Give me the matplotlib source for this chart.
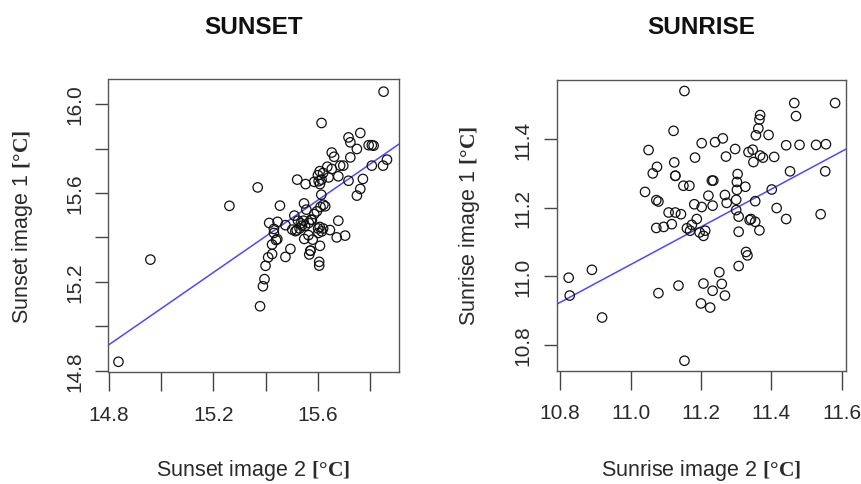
import matplotlib
matplotlib.use("Agg")
import matplotlib.pyplot as plt

# ---------------- data ----------------
sunset_x = [14.838, 14.960, 15.851, 15.614, 15.262, 15.370, 15.379, 15.390, 15.396, 15.400,
            15.410, 15.425, 15.445, 15.414, 15.432, 15.432, 15.455, 15.446, 15.440, 15.425,
            15.476, 15.495, 15.502, 15.514, 15.519, 15.530, 15.545, 15.539, 15.547, 15.556,
            15.565, 15.574, 15.586, 15.596, 15.610, 15.613, 15.608, 15.603, 15.600, 15.586,
            15.553, 15.521, 15.535, 15.564, 15.580, 15.571, 15.572, 15.548, 15.567, 15.602,
            15.608, 15.621, 15.628, 15.607, 15.614, 15.620, 15.636, 15.662, 15.653, 15.601,
            15.607, 15.620, 15.646, 15.672, 15.704, 15.678, 15.605, 15.605, 15.641, 15.653,
            15.678, 15.685, 15.697, 15.724, 15.717, 15.717, 15.724, 15.749, 15.762, 15.749,
            15.762, 15.772, 15.794, 15.806, 15.813, 15.806, 15.849, 15.864, 15.476, 15.510,
            15.577, 15.615, 15.524, 15.551]
sunset_y = [14.840, 15.300, 16.056, 15.915, 15.542, 15.625, 15.090, 15.180, 15.212, 15.272,
            15.310, 15.368, 15.392, 15.465, 15.438, 15.420, 15.543, 15.470, 15.388, 15.325,
            15.312, 15.348, 15.435, 15.428, 15.432, 15.440, 15.475, 15.453, 15.553, 15.525,
            15.465, 15.480, 15.505, 15.517, 15.537, 15.592, 15.640, 15.653, 15.680, 15.650,
            15.640, 15.660, 15.463, 15.410, 15.390, 15.340, 15.340, 15.393, 15.323, 15.420,
            15.362, 15.547, 15.540, 15.698, 15.660, 15.690, 15.718, 15.763, 15.782, 15.440,
            15.447, 15.440, 15.433, 15.400, 15.408, 15.475, 15.290, 15.273, 15.670, 15.708,
            15.675, 15.723, 15.723, 15.760, 15.655, 15.850, 15.828, 15.798, 15.870, 15.588,
            15.618, 15.663, 15.815, 15.815, 15.813, 15.723, 15.723, 15.750, 15.455, 15.498,
            15.478, 15.427, 15.475, 15.452]
# regression line: a point on it and its slope
sunset_fit_x0 = 14.80
sunset_fit_y0 = 14.9155
sunset_fit_slope = 0.815

sunrise_x = [11.153, 11.153, 10.824, 10.827, 10.890, 10.919, 11.041, 11.051, 11.063, 11.075,
             11.073, 11.079, 11.073, 11.094, 11.079, 11.108, 11.117, 11.122, 11.124, 11.127,
             11.127, 11.127, 11.136, 11.143, 11.150, 11.164, 11.167, 11.160, 11.169, 11.174,
             11.181, 11.183, 11.188, 11.196, 11.202, 11.202, 11.207, 11.212, 11.207, 11.200,
             11.226, 11.233, 11.221, 11.231, 11.235, 11.233, 11.240, 11.252, 11.259, 11.268,
             11.262, 11.268, 11.273, 11.271, 11.297, 11.302, 11.304, 11.302, 11.300, 11.300,
             11.307, 11.307, 11.307, 11.326, 11.328, 11.332, 11.335, 11.338, 11.342, 11.347,
             11.349, 11.354, 11.354, 11.356, 11.363, 11.368, 11.366, 11.376, 11.368, 11.366,
             11.392, 11.401, 11.408, 11.415, 11.442, 11.442, 11.453, 11.465, 11.470, 11.480,
             11.527, 11.540, 11.553, 11.555, 11.581]
sunrise_y = [11.540, 10.754, 10.996, 10.944, 11.019, 10.880, 11.246, 11.368, 11.300, 11.319,
             11.222, 11.218, 11.141, 11.144, 10.951, 11.186, 11.152, 11.424, 11.332, 11.293,
             11.293, 11.186, 10.973, 11.181, 11.264, 11.587, 11.264, 11.140, 11.133, 11.150,
             11.210, 11.346, 11.167, 11.128, 11.388, 11.202, 11.118, 11.133, 10.979, 10.921,
             10.909, 10.958, 11.235, 11.279, 11.279, 11.206, 11.391, 11.012, 10.978, 10.944,
             11.402, 11.237, 11.214, 11.349, 11.371, 11.275, 11.298, 11.252, 11.223, 11.193,
             11.174, 11.130, 11.030, 11.261, 11.071, 11.061, 11.362, 11.164, 11.167, 11.369,
             11.333, 11.219, 11.159, 11.411, 11.431, 11.470, 11.457, 11.346, 11.352, 11.134,
             11.412, 11.253, 11.348, 11.199, 11.382, 11.167, 11.306, 11.505, 11.467, 11.383,
             11.383, 11.181, 11.306, 11.385, 11.505]
sunrise_fit_x0 = 10.7905
sunrise_fit_y0 = 10.919
sunrise_fit_slope = 0.55

titles = ["SUNSET", "SUNRISE"]
xlabels = ["Sunset image 2", "Sunrise image 2"]
ylabels = ["Sunset image 1", "Sunrise image 1"]
unit = "[°C]"

sunset_xticks = [14.8, 15.0, 15.2, 15.4, 15.6, 15.8]
sunset_xticklabels = ["14.8", "", "15.2", "", "15.6", ""]
sunset_yticks = [14.8, 15.0, 15.2, 15.4, 15.6, 15.8, 16.0]
sunset_yticklabels = ["14.8", "", "15.2", "", "15.6", "", "16.0"]
sunrise_xticks = [10.8, 11.0, 11.2, 11.4, 11.6]
sunrise_xticklabels = ["10.8", "11.0", "11.2", "11.4", "11.6"]
sunrise_yticks = [10.8, 11.0, 11.2, 11.4]
sunrise_yticklabels = ["10.8", "11.0", "11.2", "11.4"]

# ---------------- styling ----------------
plt.rcParams["font.family"] = ["Liberation Sans", "DejaVu Sans"]
plt.rcParams["mathtext.fontset"] = "custom"
plt.rcParams["mathtext.rm"] = "Liberation Sans"
plt.rcParams["mathtext.bf"] = "Liberation Serif:bold"

TXT = "#2a2a2a"
W, H = 861, 485
fig = plt.figure(figsize=(W / 100, H / 100), dpi=100)

boxes = [(108.5, 80.0, 398.5, 373.0), (556.7, 80.7, 846.0, 371.7)]  # left, top, right, bottom (px)
axes = []
for (l, t, r, b) in boxes:
    axes.append(fig.add_axes([l / W, (H - b) / H, (r - l) / W, (b - t) / H]))

panels = [
    (sunset_x, sunset_y, (sunset_fit_x0, sunset_fit_y0, sunset_fit_slope),
     (14.80, 15.908), (14.794, 16.113), sunset_xticks, sunset_xticklabels,
     sunset_yticks, sunset_yticklabels),
    (sunrise_x, sunrise_y, (sunrise_fit_x0, sunrise_fit_y0, sunrise_fit_slope),
     (10.79, 11.612), (10.725, 11.573), sunrise_xticks, sunrise_xticklabels,
     sunrise_yticks, sunrise_yticklabels),
]

for i, (ax, (xs, ys, fit, xl, yl, xt, xtl, yt, ytl)) in enumerate(zip(axes, panels)):
    l, t, r, b = boxes[i]
    ax.scatter(xs, ys, s=46, facecolors="none", edgecolors="#111111", linewidths=0.9, zorder=3)
    x0, y0, m = fit
    ax.axline((x0, y0), slope=m, color="#4a4aff", lw=1.1, zorder=2)
    ax.set_xlim(*xl)
    ax.set_ylim(*yl)
    ax.set_xticks(xt)
    ax.set_xticklabels(xtl)
    ax.set_yticks(yt)
    ax.set_yticklabels(ytl, rotation=90, va="center")
    ax.tick_params(axis="x", direction="out", length=13.5, width=1, colors="#444444",
                   labelcolor=TXT, labelsize=15, pad=10)
    ax.tick_params(axis="y", direction="out", length=9.5, width=1, colors="#444444",
                   labelcolor=TXT, labelsize=15, pad=8)
    for sp in ax.spines.values():
        sp.set_color("#555555")
        sp.set_linewidth(1.0)

    wpx, hpx = r - l, b - t
    # title
    fig.text((l + r) / 2 / W, 1 - 27 / H, titles[i], fontsize=17.5, fontweight="bold",
             color="#111111", ha="center", va="center")
    # axis labels
    ax.set_xlabel(xlabels[i] + r" $\mathbf{" + unit + "}$", fontsize=15.5, color=TXT)
    ax.xaxis.label.set_va("center")
    ax.xaxis.set_label_coords(0.5, -(471 - b) / hpx)
    ax.set_ylabel(ylabels[i] + r" $\mathbf{" + unit + "}$", fontsize=15.5, color=TXT)
    ax.yaxis.label.set_va("center")
    ax.yaxis.label.set_ha("center")
    ylab_x = 23 if i == 0 else 470
    ax.yaxis.set_label_coords(-(l - ylab_x) / wpx, 0.5)

fig.savefig("out.png", dpi=100, facecolor="white")
